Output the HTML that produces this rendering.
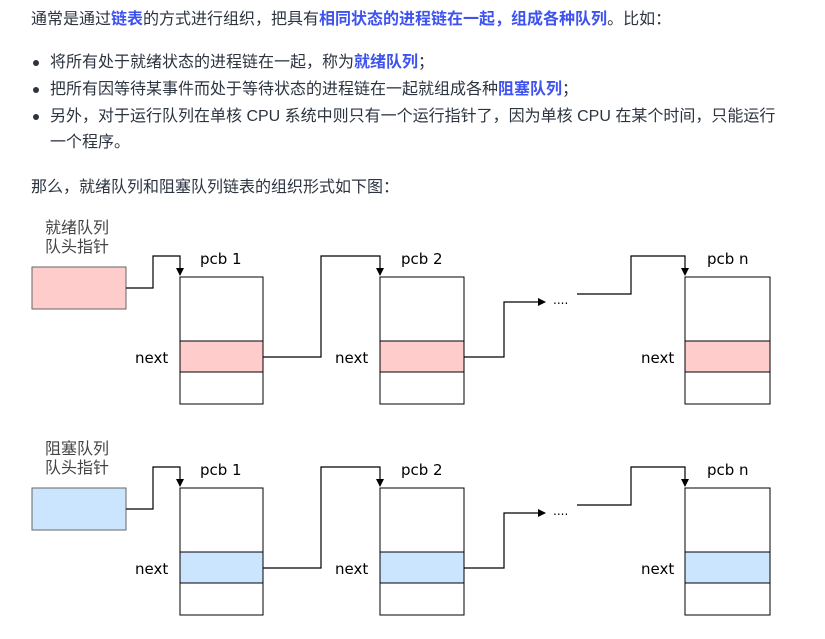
<!DOCTYPE html>
<html><head><meta charset="utf-8"><style>
body{margin:0;width:825px;height:639px;background:#fff;position:relative;overflow:hidden;font-family:"Liberation Sans","Noto Sans CJK SC",sans-serif;color:#2c3440;font-size:16px}
.t{position:absolute;left:31px;white-space:nowrap;line-height:20px}
.b{color:#3e52f0;font-weight:bold}
.dot{position:absolute;left:33px;width:6px;height:6px;border-radius:3px;background:#2c3440}
svg{position:absolute;left:0;top:0}
</style></head><body>
<div class="t" style="top:10px">通常是通过<span class="b">链表</span>的方式进行组织，把具有<span class="b">相同状态的进程链在一起，组成各种队列</span>。比如：</div>
<div class="dot" style="top:60px"></div><div class="t" style="left:50px;top:53px">将所有处于就绪状态的进程链在一起，称为<span class="b">就绪队列</span>；</div>
<div class="dot" style="top:87px"></div><div class="t" style="left:50px;top:80px">把所有因等待某事件而处于等待状态的进程链在一起就组成各种<span class="b">阻塞队列</span>；</div>
<div class="dot" style="top:114px"></div><div class="t" style="left:50px;top:107px">另外，对于运行队列在单核 CPU 系统中则只有一个运行指针了，因为单核 CPU 在某个时间，只能运行</div>
<div class="t" style="left:50px;top:133px">一个程序。</div>
<div class="t" style="top:178px">那么，就绪队列和阻塞队列链表的组织形式如下图：</div>
<svg width="825" height="639" font-family="'Comic Sans MS','DejaVu Sans','Noto Sans CJK SC',sans-serif" font-size="15" fill="#000">
<defs><marker id="a" markerWidth="8" markerHeight="8" refX="7" refY="4" orient="auto" markerUnits="userSpaceOnUse"><path d="M0,0 L8,4 L0,8 Z" fill="#000"/></marker></defs>
<text x="45" y="233" font-family="'Noto Sans CJK SC',sans-serif" font-size="16" fill="#444">就绪队列</text>
<text x="45" y="252" font-family="'Noto Sans CJK SC',sans-serif" font-size="16" fill="#444">队头指针</text>
<rect x="32" y="267" width="94" height="42" fill="#ffcccc" stroke="#666"/>
<g fill="none" stroke="#000" stroke-width="1.2">
<polyline points="126,288 153,288 153,256 180,256 180,275" marker-end="url(#a)"/>
<polyline points="263,357 321,357 321,256 380,256 380,275" marker-end="url(#a)"/>
<polyline points="464,357 504,357 504,302 545,302" marker-end="url(#a)"/>
<polyline points="577,294 631,294 631,256 685,256 685,275" marker-end="url(#a)"/>
</g>
<g stroke="#000" stroke-width="1" fill="#fff">
<rect x="180" y="277" width="83" height="127"/><rect x="180" y="341" width="83" height="31" fill="#ffcccc"/>
<rect x="380" y="277" width="84" height="127"/><rect x="380" y="341" width="84" height="31" fill="#ffcccc"/>
<rect x="685" y="277" width="85" height="127"/><rect x="685" y="341" width="85" height="31" fill="#ffcccc"/>
</g>
<text x="200" y="264">pcb 1</text><text x="401" y="264">pcb 2</text><text x="707" y="264">pcb n</text>
<text x="135" y="363">next</text><text x="335" y="363">next</text><text x="641" y="363">next</text>
<text x="553" y="304" font-size="12">....</text>
<text x="45" y="454" font-family="'Noto Sans CJK SC',sans-serif" font-size="16" fill="#444">阻塞队列</text>
<text x="45" y="473" font-family="'Noto Sans CJK SC',sans-serif" font-size="16" fill="#444">队头指针</text>
<rect x="32" y="488" width="94" height="42" fill="#cce5ff" stroke="#666"/>
<g fill="none" stroke="#000" stroke-width="1.2">
<polyline points="126,509 153,509 153,467 180,467 180,486" marker-end="url(#a)"/>
<polyline points="263,568 321,568 321,467 380,467 380,486" marker-end="url(#a)"/>
<polyline points="464,568 504,568 504,513 545,513" marker-end="url(#a)"/>
<polyline points="577,505 631,505 631,467 685,467 685,486" marker-end="url(#a)"/>
</g>
<g stroke="#000" stroke-width="1" fill="#fff">
<rect x="180" y="488" width="83" height="127"/><rect x="180" y="552" width="83" height="31" fill="#cce5ff"/>
<rect x="380" y="488" width="84" height="127"/><rect x="380" y="552" width="84" height="31" fill="#cce5ff"/>
<rect x="685" y="488" width="85" height="127"/><rect x="685" y="552" width="85" height="31" fill="#cce5ff"/>
</g>
<text x="200" y="475">pcb 1</text><text x="401" y="475">pcb 2</text><text x="707" y="475">pcb n</text>
<text x="135" y="574">next</text><text x="335" y="574">next</text><text x="641" y="574">next</text>
<text x="553" y="515" font-size="12">....</text>
</svg>
</body></html>
